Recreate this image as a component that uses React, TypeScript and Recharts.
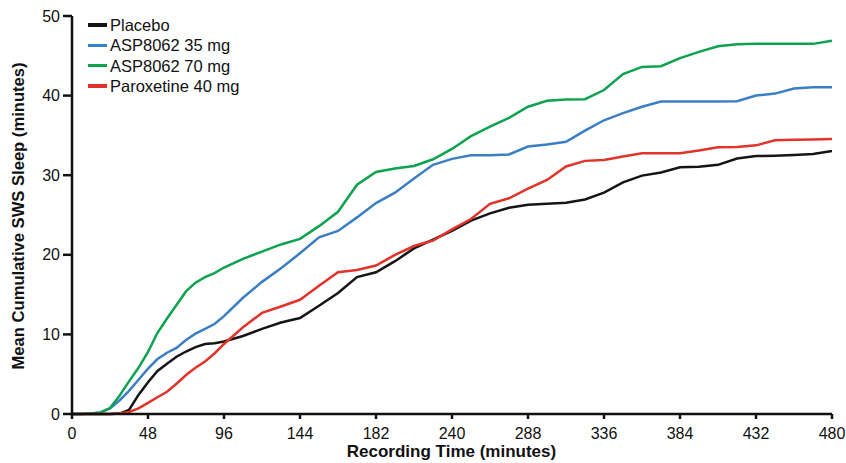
import React from 'react';
import { LineChart, Line, XAxis, YAxis, Legend } from 'recharts';

const times = [0, 6, 12, 18, 24, 30, 36, 42, 48, 54, 60, 66, 72, 78, 84, 90, 96, 108, 120, 132, 144, 156, 168, 180, 192, 204, 216, 228, 240, 252, 264, 276, 288, 300, 312, 324, 336, 348, 360, 372, 384, 396, 408, 420, 432, 444, 456, 468, 480];

const placebo = [0, 0, 0, 0, 0, 0.05, 0.5, 2.4, 4.0, 5.4, 6.3, 7.2, 7.85, 8.4, 8.8, 8.9, 9.1, 9.8, 10.7, 11.5, 12.05, 13.6, 15.2, 17.2, 17.8, 19.2, 20.8, 21.9, 23.0, 24.3, 25.2, 25.9, 26.3, 26.4, 26.55, 26.95, 27.8, 29.1, 29.95, 30.35, 31.0, 31.05, 31.3, 32.1, 32.4, 32.45, 32.55, 32.65, 33.05];

const asp35 = [0, 0, 0.05, 0.2, 0.7, 1.7, 2.9, 4.3, 5.7, 6.9, 7.7, 8.3, 9.3, 10.1, 10.7, 11.3, 12.3, 14.6, 16.6, 18.3, 20.2, 22.2, 23.0, 24.7, 26.5, 27.8, 29.6, 31.3, 32.05, 32.5, 32.5, 32.6, 33.6, 33.85, 34.2, 35.6, 36.9, 37.8, 38.6, 39.25, 39.25, 39.25, 39.25, 39.3, 40.0, 40.25, 40.9, 41.05, 41.05];

const asp70 = [0, 0, 0.05, 0.2, 0.75, 2.3, 4.1, 5.8, 7.8, 10.2, 12.0, 13.7, 15.4, 16.5, 17.2, 17.7, 18.4, 19.5, 20.4, 21.3, 22.0, 23.6, 25.4, 28.8, 30.4, 30.85, 31.15, 32.0, 33.3, 34.9, 36.1, 37.2, 38.6, 39.35, 39.5, 39.55, 40.7, 42.7, 43.6, 43.7, 44.7, 45.5, 46.2, 46.45, 46.5, 46.5, 46.5, 46.5, 46.9];

const paroxetine = [0, 0, 0, 0, 0, 0.05, 0.25, 0.7, 1.4, 2.1, 2.8, 3.8, 4.9, 5.8, 6.6, 7.6, 8.8, 10.9, 12.7, 13.5, 14.35, 16.1, 17.8, 18.1, 18.65, 20.0, 21.1, 21.8, 23.2, 24.5, 26.4, 27.1, 28.3, 29.4, 31.1, 31.8, 31.9, 32.35, 32.75, 32.75, 32.75, 33.1, 33.5, 33.55, 33.75, 34.4, 34.45, 34.5, 34.55];

const xTicks = [0, 48, 96, 144, 192, 240, 288, 336, 384, 432, 480];
const xTickLabels = ['0', '48', '96', '144', '182', '240', '288', '336', '384', '432', '480'];
const yTicks = [0, 10, 20, 30, 40, 50];

const seriesNames = ['Placebo', 'ASP8062 35 mg', 'ASP8062 70 mg', 'Paroxetine 40 mg'];
const seriesKeys = ['placebo', 'asp35', 'asp70', 'paroxetine'];
const seriesColors = ['#151515', '#3a7ec4', '#0ca24e', '#e2332b'];

const data = times.map((t, i) => ({
  t,
  placebo: placebo[i],
  asp35: asp35[i],
  asp70: asp70[i],
  paroxetine: paroxetine[i],
}));

const FONT = '"Liberation Sans", Arial, Helvetica, sans-serif';

const renderLegend = () => (
  <div style={{ fontFamily: FONT, fontSize: 16.5, color: '#111' }}>
    {seriesNames.map((name, i) => (
      <div key={name} style={{ display: 'flex', alignItems: 'center', height: 20.3, lineHeight: '20px' }}>
        <span style={{ display: 'inline-block', width: 19, height: 3.5, background: seriesColors[i], marginRight: 3 }} />
        <span>{name}</span>
      </div>
    ))}
  </div>
);

const YLabel = () => {
  const cx = 18;
  const cy = 216;
  return (
    <text
      x={cx}
      y={cy}
      transform={`rotate(-90, ${cx}, ${cy})`}
      textAnchor="middle"
      dominantBaseline="central"
      style={{ fontFamily: FONT, fontSize: 16.6, fontWeight: 700, fill: '#111' }}
    >
      Mean Cumulative SWS Sleep (minutes)
    </text>
  );
};

const XLabel = () => (
  <text
    x={451.5}
    y={451}
    textAnchor="middle"
    dominantBaseline="central"
    style={{ fontFamily: FONT, fontSize: 17, fontWeight: 700, fill: '#111' }}
  >
    Recording Time (minutes)
  </text>
);

export default function App() {
  return (
    <div style={{ width: 846, height: 463, background: '#fff', position: 'relative' }}>
      <style>{`html,body{margin:0;padding:0;overflow:hidden;background:#fff}`}</style>
      <LineChart
        width={846}
        height={463}
        data={data}
        margin={{ top: 16, right: 14, bottom: 0, left: 0 }}
      >
        <XAxis
          dataKey="t"
          type="number"
          domain={[0, 480]}
          ticks={xTicks}
          tickFormatter={(v: number) => xTickLabels[xTicks.indexOf(v)] ?? String(v)}
          height={49}
          tickSize={5}
          tickMargin={9}
          interval={0}
          axisLine={{ stroke: '#111', strokeWidth: 2.5 }}
          tickLine={{ stroke: '#111', strokeWidth: 2.5 }}
          tick={{ fill: '#111', fontSize: 16, fontFamily: FONT }}
          label={{ content: XLabel }}
        />
        <YAxis
          type="number"
          domain={[0, 50]}
          ticks={yTicks}
          width={72}
          tickSize={9}
          tickMargin={3}
          interval={0}
          axisLine={{ stroke: '#111', strokeWidth: 2.5 }}
          tickLine={{ stroke: '#111', strokeWidth: 2.5 }}
          tick={{ fill: '#111', fontSize: 16, fontFamily: FONT }}
          label={{ content: YLabel }}
        />
        <Legend
          layout="vertical"
          align="center"
          verticalAlign="middle"
          content={renderLegend}
          wrapperStyle={{ left: 88, top: 15, width: 220, height: 84 }}
        />
        {seriesKeys.map((k, i) => (
          <Line
            key={k}
            type="linear"
            dataKey={k}
            name={seriesNames[i]}
            stroke={seriesColors[i]}
            strokeWidth={2.5}
            dot={false}
            activeDot={false}
            isAnimationActive={false}
          />
        ))}
      </LineChart>
    </div>
  );
}
